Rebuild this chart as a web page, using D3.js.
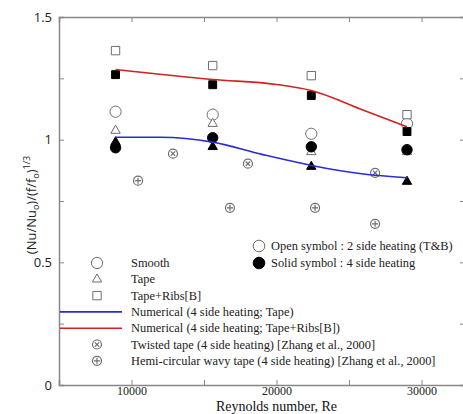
<!DOCTYPE html>
<html>
<head>
<meta charset="utf-8" />
<title>Nu/f ratio vs Reynolds number</title>
<style>
html, body { margin: 0; padding: 0; background: #fff; }
svg { display: block; }
.serif { font-family: "Liberation Serif", "DejaVu Serif", serif; }
.axis path, .axis line { stroke: #888; }
.axis path { stroke-width: 1.5; }
</style>
</head>
<body>
<svg width="463" height="414"></svg>

<script src="https://cdn.jsdelivr.net/npm/d3@7/dist/d3.min.js"></script>
<script>

// 実験データ (Re は4点共通)
var reynolds = [8900, 15600, 22400, 29000];
var smooth2 = [1.114, 1.102, 1.024, 1.065];
var smooth4 = [0.967, 1.008, 0.971, 0.959];
var tape2 = [1.037, 1.065, 0.95, 0.95];
var tape4 = [0.99, 0.971, 0.89, 0.829];
var ribs2 = [1.363, 1.302, 1.261, 1.102];
var ribs4 = [1.265, 1.224, 1.18, 1.033];

// 数値計算
var numTapeRe = [8900, 12000, 15600, 19000, 22400, 26000, 29000];
var numTape = [1.01, 1.01, 0.99, 0.94, 0.895, 0.86, 0.845];
var numRibsRe = [8900, 15600, 20000, 22400, 26000, 29000];
var numRibs = [1.286, 1.245, 1.225, 1.2, 1.12, 1.053];

// Zhang et al., 2000
var twistedRe = [12860, 18030, 26800];
var twisted = [0.943, 0.902, 0.865];
var hemiRe = [10450, 16790, 22660, 26800];
var hemi = [0.833, 0.722, 0.722, 0.657];

var xTicks = [10000, 15000, 20000, 25000, 30000];
var yTicks = [0, 0.25, 0.5, 0.75, 1, 1.25, 1.5];

var legendLabels = [
	"Smooth",
	"Tape",
	"Tape+Ribs[B]",
	"Numerical (4 side heating; Tape)",
	"Numerical (4 side heating; Tape+Ribs[B])",
	"Twisted tape (4 side heating) [Zhang et al., 2000]",
	"Hemi-circular wavy tape (4 side heating) [Zhang et al., 2000]"
];
var legendKinds = ["circle", "triangle", "square", "blue", "red", "twisted", "hemi"];
var noteLabels = ["Open symbol : 2 side heating (T&B)", "Solid symbol : 4 side heating"];

var svg = d3.select('svg');
var gray = "#6e6e6e";

var x = d3.scaleLinear().domain([5000, 33000]).range([59, 465]);
var y = d3.scaleLinear().domain([0, 1.5]).range([385, 17]);

function fmtX(d){ return d % 10000 === 0 ? d : ""; }
function fmtY(d){ return d % 0.5 === 0 ? String(d) : ""; }

//軸
svg.append("g").attr("class", "axis serif")
	.attr("transform", "translate(0," + y(0) + ")")
	.call(d3.axisBottom(x).tickValues(xTicks).tickSize(-5).tickPadding(1).tickFormat(fmtX))
	.call(function(g){ g.selectAll("text").attr("font-size", 12).attr("fill", "#222"); });

svg.append("g").attr("class", "axis")
	.attr("transform", "translate(0," + y(1.5) + ")")
	.call(d3.axisTop(x).tickValues(xTicks).tickSize(-5).tickFormat(""));

svg.append("g").attr("class", "axis")
	.attr("transform", "translate(" + x(5000) + ",0)")
	.call(d3.axisLeft(y).tickValues(yTicks).tickSize(-5).tickPadding(7).tickFormat(fmtY))
	.call(function(g){ g.selectAll("text").attr("font-size", 13).attr("fill", "#222")
		.attr("font-family", "'Open Sans', sans-serif"); });

svg.append("g").attr("class", "axis")
	.attr("transform", "translate(" + x(33000) + ",0)")
	.call(d3.axisRight(y).tickValues(yTicks).tickSize(-5).tickFormat(""));

svg.selectAll(".axis .domain").attr("stroke", "#888").attr("stroke-width", 1.5);

//軸ラベル
svg.append("text").attr("class", "serif")
	.attr("x", x(20000)).attr("y", 411)
	.attr("text-anchor", "middle").attr("font-size", 14).attr("fill", "#111")
	.text("Reynolds number, Re");

var yl = svg.append("text")
	.attr("transform", "translate(36,205) rotate(-90)")
	.attr("text-anchor", "middle").attr("font-size", 13).attr("fill", "#222")
	.attr("font-family", "'Open Sans', sans-serif");
yl.append("tspan").text("(Nu/Nu");
yl.append("tspan").attr("font-size", 9).attr("dy", 3).text("o");
yl.append("tspan").attr("dy", -3).text(")/(f/f");
yl.append("tspan").attr("font-size", 9).attr("dy", 3).text("o");
yl.append("tspan").attr("dy", -3).text(")");
yl.append("tspan").attr("font-size", 9).attr("dy", -6).text("1/3");

//マーカー描画
function marker(g, kind, cx, cy, solid){
	var fill = solid ? "#000" : "#fff";
	var stroke = solid ? "#000" : gray;
	if(kind == "circle"){
		g.append("circle").attr("cx", cx).attr("cy", cy).attr("r", solid ? 5.2 : 5.6)
			.attr("fill", fill).attr("stroke", stroke).attr("stroke-width", 1);
	} else if(kind == "triangle"){
		g.append("path").attr("transform", "translate(" + [cx, cy] + ")")
			.attr("d", d3.symbol(d3.symbolTriangle, 38)())
			.attr("fill", fill).attr("stroke", stroke).attr("stroke-width", 1);
	} else if(kind == "square"){
		g.append("path").attr("transform", "translate(" + [cx, cy] + ")")
			.attr("d", d3.symbol(d3.symbolSquare, solid ? 62 : 70)())
			.attr("fill", fill).attr("stroke", stroke).attr("stroke-width", 1);
	} else if(kind == "twisted" || kind == "hemi"){
		var s = g.append("g").attr("transform", "translate(" + [cx, cy] + ")")
			.attr("stroke", gray).attr("stroke-width", 1.2).attr("fill", "none");
		s.append("circle").attr("r", 4.5).attr("fill", "#fff");
		var a = kind == "twisted" ? 2.2 : 3;
		if(kind == "twisted"){
			s.append("path").attr("d", "M" + [-a, -a] + "L" + [a, a] + "M" + [-a, a] + "L" + [a, -a]);
		} else {
			s.append("path").attr("d", "M" + [-a, 0] + "L" + [a, 0] + "M" + [0, -a] + "L" + [0, a]);
		}
	}
}

var plot = svg.append("g");

function drawSeries(kind, xs, vals, solid){
	vals.forEach(function(v, i){ marker(plot, kind, x(xs[i]), y(v), solid); });
}

drawSeries("circle", reynolds, smooth2, false);
drawSeries("triangle", reynolds, tape2, false);
drawSeries("square", reynolds, ribs2, false);
drawSeries("twisted", twistedRe, twisted, false);
drawSeries("hemi", hemiRe, hemi, false);
drawSeries("circle", reynolds, smooth4, true);
drawSeries("triangle", reynolds, tape4, true);
drawSeries("square", reynolds, ribs4, true);

var line = d3.line()
	.x(function(d){ return x(d[0]); })
	.y(function(d){ return y(d[1]); })
	.curve(d3.curveMonotoneX);

plot.append("path").datum(d3.zip(numTapeRe, numTape))
	.attr("d", line).attr("fill", "none").attr("stroke", "#2b2bd8").attr("stroke-width", 1.6);
plot.append("path").datum(d3.zip(numRibsRe, numRibs))
	.attr("d", line).attr("fill", "none").attr("stroke", "#d42020").attr("stroke-width", 1.6);

//凡例
var legend = svg.append("g").attr("class", "serif");
legendLabels.forEach(function(t, i){
	var ly = 263 + i * 16.3;
	var k = legendKinds[i];
	if(k == "blue" || k == "red"){
		legend.append("line").attr("x1", 60).attr("x2", 122).attr("y1", ly).attr("y2", ly)
			.attr("stroke", k == "blue" ? "#2b2bd8" : "#d42020").attr("stroke-width", 1.6);
	} else {
		marker(legend, k, 97, ly, false);
	}
	legend.append("text").attr("x", 131).attr("y", ly + 4)
		.attr("font-size", 12.4).attr("fill", "#222").text(t);
});

noteLabels.forEach(function(t, i){
	var ny = 246 + i * 17;
	legend.append("circle").attr("cx", 259).attr("cy", ny).attr("r", 5.8)
		.attr("fill", i == 0 ? "#fff" : "#000").attr("stroke", i == 0 ? gray : "#000");
	legend.append("text").attr("x", 271).attr("y", ny + 4)
		.attr("font-size", 12.4).attr("fill", "#222").text(t);
});

</script>
</body>
</html>
